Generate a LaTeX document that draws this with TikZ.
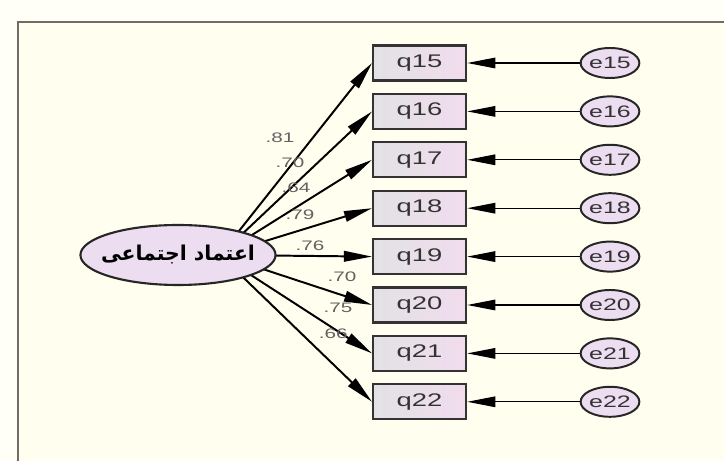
\documentclass[tikz,border=0pt]{standalone}
\usepackage{fontspec}
\usetikzlibrary{shapes.geometric,arrows.meta,backgrounds}
\newfontfamily\amosfont[FakeStretch=1.5]{Liberation Sans}
\newfontfamily\farsifont[Script=Arabic]{DejaVu Sans}
\TeXXeTstate=1
\definecolor{paper}{HTML}{FFFEEF}
\definecolor{outside}{HTML}{FFFFF7}
\definecolor{boxgray}{HTML}{E2E2E4}
\definecolor{boxpink}{HTML}{F1DCEE}
\definecolor{ovalpink}{HTML}{ECDDF0}
\definecolor{framegray}{HTML}{6E6E66}

\begin{document}
\begin{tikzpicture}[lat/.style = {draw=black!85, line width=1.5pt, ellipse, fill=ovalpink, minimum width=4.75cm, minimum height=1.5cm, inner xsep=-0.2cm, inner ysep=0pt},
        obs/.style = {draw=black!80, line width=1.5pt, left color=boxgray, right color=boxpink, minimum width=2.325cm, minimum height=0.875cm, inner sep=0pt, text=black!80, font=\amosfont\fontsize{13}{15}\selectfont},
        err/.style = {draw=black!85, line width=1.4pt, ellipse, fill=ovalpink, minimum width=1.4cm, minimum height=0.75cm, inner sep=0pt, text=black!80, font=\amosfont\fontsize{11.8}{13}\selectfont},
        ar/.style = {line width=1.4pt, -{Triangle[length=20pt, width=7.5pt]}},
        er/.style = {line width=0.9pt, -{Triangle[length=20pt, width=7.5pt]}},
        ld/.style = {inner sep=0pt, text=black!62, font=\amosfont\fontsize{9.8}{11}\selectfont}]
        \useasboundingbox (0,0) rectangle (18.1,11.525);

        \node[lat] (trust) at (4.45,5.15) {\farsifont\bfseries\fontsize{14.5}{16}\selectfont\beginR اعتماد اجتماعی\endR};
        \coordinate (hub) at (5.5,5.15);

        \node[obs] (q15) at (10.49,9.95) {q15};
        \node[obs] (q16) at (10.49,8.74) {q16};
        \node[obs] (q17) at (10.49,7.53) {q17};
        \node[obs] (q18) at (10.49,6.32) {q18};
        \node[obs] (q19) at (10.49,5.11) {q19};
        \node[obs] (q20) at (10.49,3.90) {q20};
        \node[obs] (q21) at (10.49,2.69) {q21};
        \node[obs] (q22) at (10.49,1.48) {q22};

        \node[err] (e15) at (15.25,9.95) {e15};
        \node[err] (e16) at (15.25,8.74) {e16};
        \node[err] (e17) at (15.25,7.53) {e17};
        \node[err] (e18) at (15.25,6.32) {e18};
        \node[err] (e19) at (15.25,5.11) {e19};
        \node[err] (e20) at (15.25,3.90) {e20};
        \node[err] (e21) at (15.25,2.69) {e21};
        \node[err] (e22) at (15.25,1.48) {e22};

        \node[ld] (l15) at (7.00,8.08) {.81};
        \node[ld] (l16) at (7.25,7.45) {.70};
        \node[ld] (l17) at (7.40,6.83) {.64};
        \node[ld] (l18) at (7.50,6.15) {.79};
        \node[ld] (l19) at (7.75,5.37) {.76};
        \node[ld] (l20) at (8.55,4.60) {.70};
        \node[ld] (l21) at (8.45,3.83) {.75};
        \node[ld] (l22) at (8.33,3.18) {.66};

        \draw[er] (e15) -- (q15);
        \draw[er] (e16) -- (q16);
        \draw[er] (e17) -- (q17);
        \draw[er] (e18) -- (q18);
        \draw[er] (e19) -- (q19);
        \draw[er] (e20) -- (q20);
        \draw[er] (e21) -- (q21);
        \draw[er] (e22) -- (q22);

        \begin{pgfonlayer}{background}
            \fill[outside] (0,0) rectangle (18.1,11.525);
            \fill[paper] (0.45,0) rectangle (18.1,10.975);
            \draw[framegray, line width=1.4pt] (0.45,0) -- (0.45,10.975) -- (18.1,10.975);
            % loadings start behind the latent oval
            \draw[ar] (hub) -- (q15.west);
            \draw[ar] (hub) -- (q16.west);
            \draw[ar] (hub) -- (q17.west);
            \draw[ar] (hub) -- (q18.west);
            \draw[ar] (hub) -- (q19.west);
            \draw[ar] (hub) -- (q20.west);
            \draw[ar] (hub) -- (q21.west);
            \draw[ar] (hub) -- (q22.west);
        \end{pgfonlayer}
    \end{tikzpicture}
\end{document}
